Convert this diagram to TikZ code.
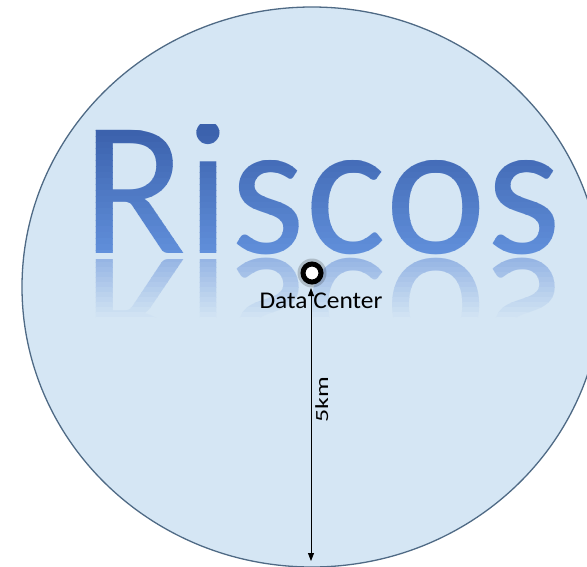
\documentclass[tikz,border=0pt]{standalone}
\usepackage{fontspec}
\setmainfont{Carlito}
\usetikzlibrary{arrows.meta}
\definecolor{areafill}{HTML}{D5E6F4}
\definecolor{areaedge}{HTML}{4F6A85}
\definecolor{titledark}{HTML}{3A60AB}
\definecolor{titlelight}{HTML}{6392DD}
\definecolor{reflcol}{HTML}{7DA2DE}
\tikzset{
  titletext/.style={inner sep=0pt, anchor=base west, font=\fontsize{192}{192}\selectfont},
  labeltext/.style={inner sep=0pt, anchor=base, text=black},
  dist/.style={{Triangle[length=8pt,width=6pt]}-{Triangle[length=8pt,width=6pt]}, line width=0.8pt, black}
}
\begin{document}
\begin{tikzpicture}[x=1pt,y=-1pt]
\useasboundingbox (0,0) rectangle (587,566);
\clip (0,0) rectangle (587,566);
% area
\fill[areafill, draw=areaedge, line width=1.3pt] (312,287) ellipse [x radius=290, y radius=280];
% reflection, fading downwards
\foreach \i in {0,...,13} {
  \pgfmathtruncatemacro{\p}{max(0,72-6*\i)}
  \begin{scope}
    \clip (70,{257+5*\i}) rectangle (580,{262.6+5*\i});
    \begin{scope}[shift={(82,259)}, yscale=-1]
      \node[titletext, text=reflcol!\p!areafill, transform shape] (refl\i) at (0,0) {Riscos};
    \end{scope}
  \end{scope}
}
% title with vertical gradient
\foreach \i in {0,...,22} {
  \pgfmathtruncatemacro{\p}{100-4.5*\i}
  \begin{scope}
    \clip (70,{124+6*\i}) rectangle (580,{130.6+6*\i});
    \node[titletext, text=titledark!\p!titlelight] (title\i) at (82,253) {Riscos};
  \end{scope}
}
% data center
\node[circle, fill=black, opacity=0.18, minimum size=29pt, inner sep=0pt] (halo) at (312,273) {};
\node[circle, draw=black, line width=5pt, fill=white, minimum size=18pt, inner sep=0pt] (dc) at (312,273) {};
\begin{scope}[shift={(321,308)}, xscale=1.06]
  \node[labeltext, transform shape, font=\fontsize{24}{24}\selectfont] (dclabel) at (0,0) {Data Center};
\end{scope}
\coordinate (top) at (311,288);
\coordinate (bottom) at (311,561);
\draw[dist] (top) -- (bottom);
\begin{scope}[shift={(328,400)}, rotate=90, xscale=1.4]
  \node[labeltext, transform shape, font=\fontsize{18.5}{18.5}\selectfont] (km) at (0,0) {5km};
\end{scope}
\end{tikzpicture}
\end{document}
